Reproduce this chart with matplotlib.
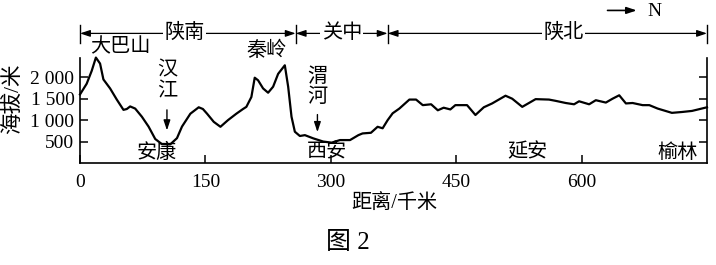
import matplotlib
matplotlib.use('Agg')
import matplotlib.pyplot as plt

plt.rcParams['font.family'] = ['Liberation Serif', 'Noto Sans CJK SC']

# 剖面数据: 距离(千米) 与 海拔(米)
dist = [0, 8, 14, 19, 24, 28, 36, 44, 52, 56, 60, 66, 74, 82, 90, 98, 108,
        116, 122, 132, 142, 147, 152, 160, 168, 177, 187, 195, 199, 205, 209,
        213, 219, 225, 231, 237, 245, 249, 253, 257, 263, 269, 279, 291, 301,
        311, 323, 333, 338, 348, 356, 362, 368, 374, 382, 394, 402, 410, 420,
        428, 435, 443, 449, 463, 473, 483, 493, 509, 517, 529, 545, 561, 569,
        581, 591, 597, 609, 617, 629, 637, 645, 653, 661, 673, 681, 691, 708,
        720, 732, 750]
elev = [1600, 1850, 2150, 2460, 2320, 1950, 1740, 1480, 1240, 1260, 1320,
        1270, 1080, 850, 560, 440, 435, 580, 850, 1150, 1300, 1260, 1150, 960,
        845, 1000, 1150, 1260, 1310, 1540, 1990, 1930, 1740, 1640, 1780, 2080,
        2280, 1780, 1080, 730, 630, 650, 575, 500, 475, 535, 535, 650, 690,
        705, 845, 810, 1000, 1160, 1270, 1480, 1480, 1350, 1370, 1230, 1290,
        1250, 1350, 1350, 1120, 1300, 1390, 1570, 1500, 1310, 1490, 1480, 1450,
        1400, 1370, 1440, 1370, 1465, 1410, 1500, 1580, 1390, 1400, 1350,
        1350, 1270, 1170, 1190, 1215, 1300]

xticks = [0, 150, 300, 450, 600]
yticks = [500, 1000, 1500, 2000]
ytick_labels = ['500', '1 000', '1 500', '2 000']

# 分区边界
regions = ['陕南', '关中', '陕北']
bounds = [0, 258, 368, 750]
region_x = [125, 313, 578]

# 地名
places = ['安康', '西安', '延安', '榆林']
place_x = [92, 296, 535, 715]

fig = plt.figure(figsize=(7.16, 2.65), dpi=100)
ax = fig.add_axes([80 / 716, 1 - 163 / 265, 627 / 716, 105 / 265])

ax.plot(dist, elev, color='black', lw=1.6, clip_on=False)
ax.set_xlim(0, 750)
ax.set_ylim(0, 2450)

ax.spines['top'].set_visible(False)
for s in ['left', 'right', 'bottom']:
    ax.spines[s].set_linewidth(1.2)

ax.set_xticks(xticks)
ax.set_yticks(yticks)
ax.set_yticklabels(ytick_labels)
ax.tick_params(axis='both', direction='in', length=6, width=1.1, labelsize=14)
ax.tick_params(axis='y', right=True, pad=4)
ax.tick_params(axis='x', pad=8)

# 顶部分区箭头
yb = 3024
for x in bounds:
    ax.plot([x, x], [2810, 3220], color='black', lw=1, clip_on=False)
for i in range(len(regions)):
    ax.annotate('', xy=(bounds[i], yb), xytext=(bounds[i + 1], yb),
                arrowprops=dict(arrowstyle='<|-|>,head_length=0.6,head_width=0.2',
                                color='black', lw=0.9, shrinkA=0, shrinkB=0),
                annotation_clip=False)
    ax.text(region_x[i], yb, regions[i], ha='center', va='center', fontsize=14.5,
            bbox=dict(facecolor='white', edgecolor='none', pad=1), clip_on=False)

# 指北
ax.annotate('', xy=(666, 3560), xytext=(631, 3560),
            arrowprops=dict(arrowstyle='-|>,head_length=0.6,head_width=0.2',
                            color='black', lw=1.2, shrinkA=0, shrinkB=0),
            annotation_clip=False)
ax.text(687, 3540, 'N', ha='center', va='center', fontsize=14)

# 山名
ax.text(48, 2700, '大巴山', ha='center', va='center', fontsize=14.5, style='italic')
ax.text(223, 2600, '秦岭', ha='center', va='center', fontsize=14.5, style='italic')

# 河流
ax.text(104, 1900, '汉\n江', ha='center', va='center', fontsize=14.5, linespacing=1.1)
ax.annotate('', xy=(104, 760), xytext=(104, 1240),
            arrowprops=dict(arrowstyle='-|>,head_length=0.6,head_width=0.2',
                            color='black', lw=1, shrinkA=0, shrinkB=0))
ax.text(284, 1760, '渭\n河', ha='center', va='center', fontsize=14.5, linespacing=1.1)
ax.annotate('', xy=(284, 720), xytext=(284, 1130),
            arrowprops=dict(arrowstyle='-|>,head_length=0.6,head_width=0.2',
                            color='black', lw=1, shrinkA=0, shrinkB=0))

for name, x in zip(places, place_x):
    ax.text(x, 230, name, ha='center', va='center', fontsize=14.5)

fig.text(13 / 716, 1 - 99 / 265, '海拔/米', rotation=90, ha='center', va='center',
         fontsize=15.5)
fig.text(394 / 716, 1 - 203 / 265, '距离/千米', ha='center', va='center', fontsize=14.5)
fig.text(348 / 716, 1 - 243 / 265, '图 2', ha='center', va='center', fontsize=18)

fig.savefig('out.png', dpi=100, facecolor='white')
